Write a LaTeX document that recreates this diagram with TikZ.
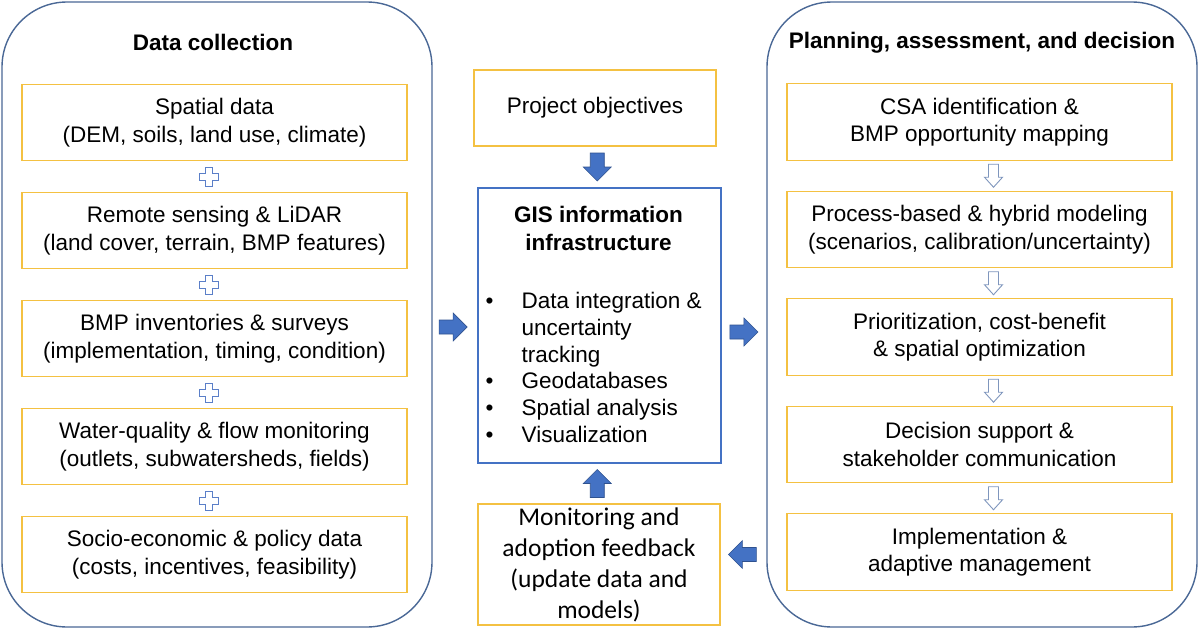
\documentclass[tikz,border=0pt]{standalone}
\usepackage{fontspec}
\setmainfont{Liberation Sans}
\newfontfamily\calibrifont{Carlito}
\usetikzlibrary{calc}
\definecolor{yboxc}{HTML}{F4C142}
\definecolor{panelc}{HTML}{4A6896}
\definecolor{gisc}{HTML}{4472C4}
\definecolor{arrfill}{HTML}{4472C4}
\definecolor{arrdraw}{HTML}{2F528F}
\definecolor{hollowc}{HTML}{7F96BD}
\definecolor{plusc}{HTML}{5B7FC8}
\tikzset{
  panel/.style={draw=panelc, line width=1.4pt, rounded corners=65pt, inner sep=0pt, minimum width=430pt, minimum height=625pt},
  ybox/.style={draw=yboxc, line width=1.1pt, fill=white, align=center, inner sep=0pt,
    font=\fontsize{22.5}{27.5}\selectfont},
  sidebox/.style={ybox, minimum width=385pt, minimum height=76.5pt},
  titletext/.style={font=\bfseries\fontsize{22.5}{27.5}\selectfont, align=center, inner sep=0pt},
  barrow/.pic={\path[fill=arrfill, draw=arrdraw, line width=0.6pt]
    (-14,-7) -- (0,-7) -- (0,-14) -- (14,0) -- (0,14) -- (0,7) -- (-14,7) -- cycle;},
  plussign/.pic={\path[fill=white, draw=plusc, line width=0.9pt]
    (-3.5,-9.5) -- (3.5,-9.5) -- (3.5,-3.5) -- (9.5,-3.5) -- (9.5,3.5) -- (3.5,3.5) -- (3.5,9.5)
    -- (-3.5,9.5) -- (-3.5,3.5) -- (-9.5,3.5) -- (-9.5,-3.5) -- (-3.5,-3.5) -- cycle;},
  hollowdown/.pic={\path[fill=white, draw=hollowc, line width=0.9pt]
    (-5,-11.5) -- (5,-11.5) -- (5,1.5) -- (9,1.5) -- (0,11.5) -- (-9,1.5) -- (-5,1.5) -- cycle;}
}
\begin{document}
\begin{tikzpicture}[x=1pt,y=-1pt]
\useasboundingbox (0,0) rectangle (1200,629);
\fill[white] (0,0) rectangle (1200,629);

% panels
\node[panel] (lp) at (217,314.5) {};
\node[panel] (rp) at (982,314.5) {};
\node[titletext] (lt) at ($(lp.north)+(-4,41)$) {Data collection};
\node[titletext] (rt) at ($(rp.north)+(0,41)$) {Planning, assessment, and decision};

% left boxes
\node[sidebox] (l1) at (214.5,122.5) {Spatial data\\(DEM, soils, land use, climate)};
\node[sidebox] (l2) at (214.5,230.5) {Remote sensing \& LiDAR\\(land cover, terrain, BMP features)};
\node[sidebox] (l3) at (214.5,338.5) {BMP inventories \& surveys\\(implementation, timing, condition)};
\node[sidebox] (l4) at (214.5,446.5) {Water-quality \& flow monitoring\\(outlets, subwatersheds, fields)};
\node[sidebox] (l5) at (214.5,554.5) {Socio-economic \& policy data\\(costs, incentives, feasibility)};
\foreach \a/\b in {l1/l2,l2/l3,l3/l4,l4/l5}
  \pic at ($(\a.south)!0.5!(\b.north)+(-6,0)$) {plussign};

% right boxes
\node[sidebox] (r1) at (979.5,122) {CSA identification \&\\BMP opportunity mapping};
\node[sidebox] (r2) at (979.5,229.5) {Process-based \& hybrid modeling\\(scenarios, calibration/uncertainty)};
\node[sidebox] (r3) at (979.5,337) {Prioritization, cost-benefit\\\& spatial optimization};
\node[sidebox] (r4) at (979.5,444.5) {Decision support \&\\stakeholder communication};
\node[sidebox] (r5) at (979.5,552) {Implementation \&\\adaptive management};
\foreach \a/\b in {r1/r2,r2/r3,r3/r4,r4/r5}
  \pic at ($(\a.south)!0.5!(\b.north)+(14,0)$) {hollowdown};

% centre
\node[ybox, minimum width=242pt, minimum height=76pt] (po) at (595,108) {Project objectives};
\node[draw=gisc, line width=1.1pt, fill=white, minimum width=243pt, minimum height=275pt, inner sep=0pt] (gis) at (599.5,325.5) {};
\node[titletext] (gist) at ($(gis.north)+(-1,41)$) {GIS information\\infrastructure};
\node[anchor=north west, inner sep=0pt, align=left, font=\fontsize{22.5}{26.8}\selectfont] (gisl) at ($(gis.north west)+(8,104.5)$)
  {\makebox[36pt][l]{\textbullet}Data integration \&\\
   \hspace*{36pt}uncertainty\\
   \hspace*{36pt}tracking\\
   \makebox[36pt][l]{\textbullet}Geodatabases\\
   \makebox[36pt][l]{\textbullet}Spatial analysis\\
   \makebox[36pt][l]{\textbullet}Visualization};
\node[ybox, font=\calibrifont\fontsize{25.5}{31}\selectfont, minimum width=242pt, minimum height=121pt] (mon) at (599,564.5)
  {Monitoring and\\adoption feedback\\(update data and\\models)};

% block arrows
\pic[rotate=-90] at ($(po.south)!0.5!(gis.north)$) {barrow};
\pic[rotate=90] at ($(gis.south)!0.5!(mon.north)+(-2,0)$) {barrow};
\pic at ($(lp.east|-gis.west)!0.5!(gis.west)+(-2,1.5)$) {barrow};
\pic at ($(gis.east)!0.5!(rp.west|-gis.east)+(0,6.5)$) {barrow};
\pic[rotate=180] at ($(mon.east)!0.5!(rp.west|-mon.east)+(-1,-10)$) {barrow};
\end{tikzpicture}
\end{document}
